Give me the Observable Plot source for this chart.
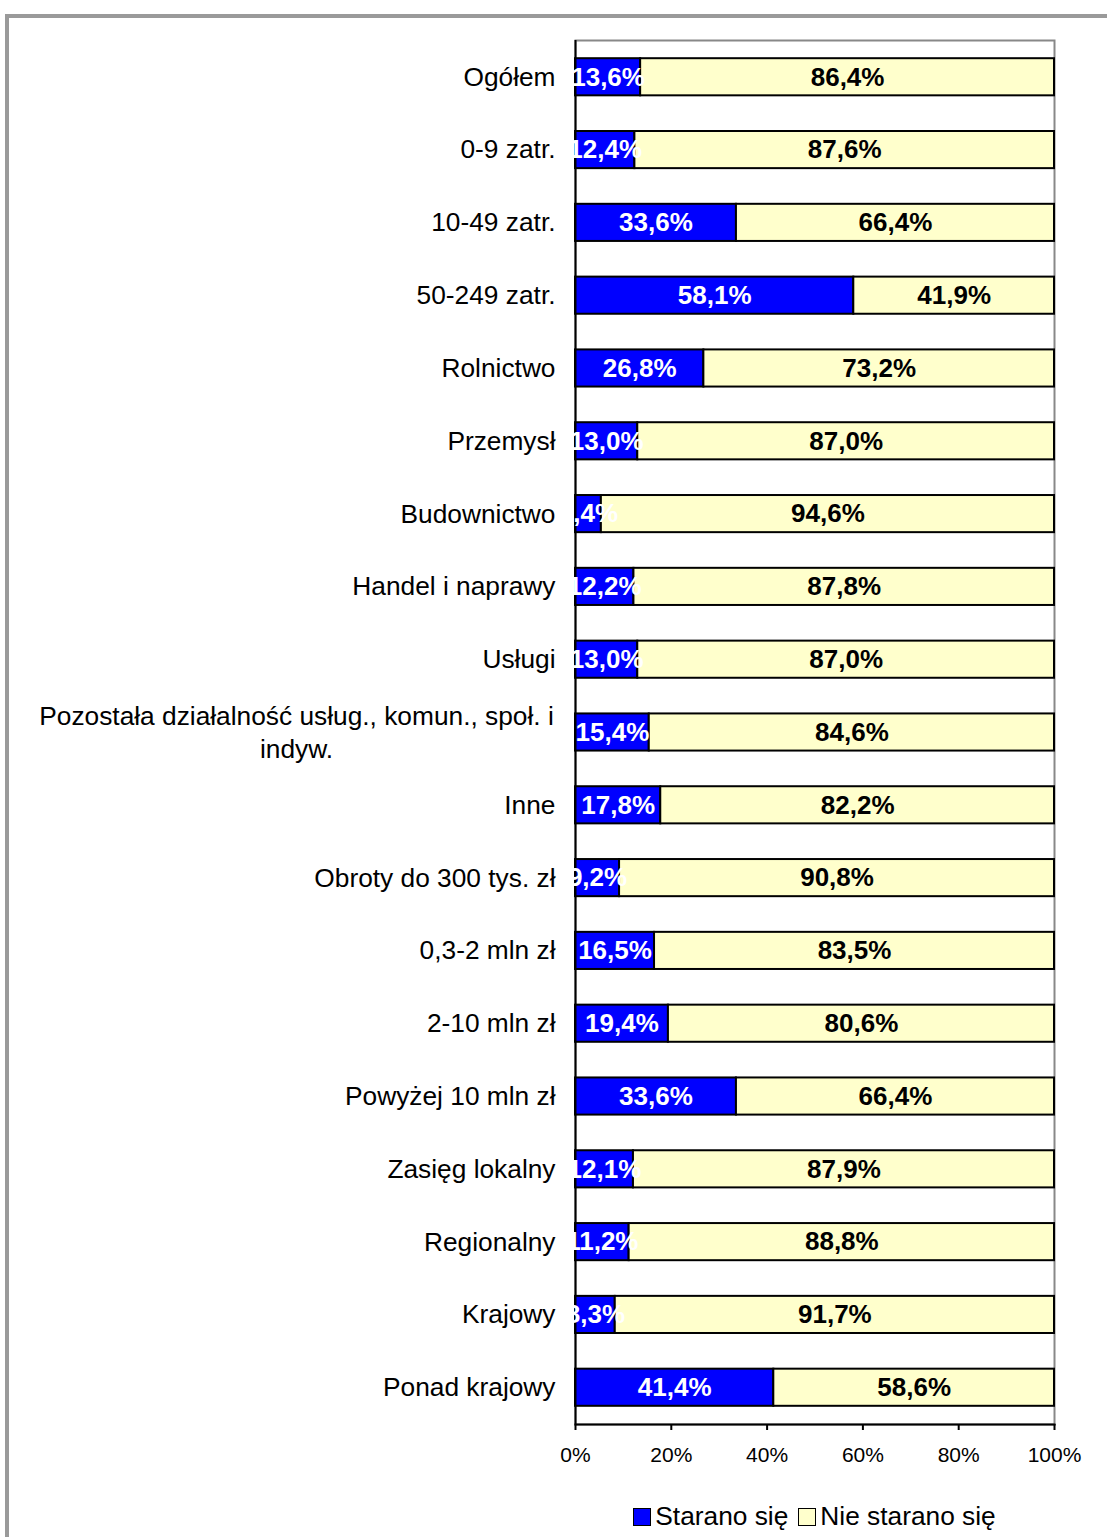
<!DOCTYPE html>
<html>
<head>
<meta charset="utf-8">
<script src="https://cdn.jsdelivr.net/npm/d3@7"></script>
<script src="https://cdn.jsdelivr.net/npm/@observablehq/plot@0.6"></script>
<style>
  html, body { margin: 0; padding: 0; background: #fff; overflow: hidden; }
  body { width: 1107px; height: 1537px; position: relative; font-family: "Liberation Sans", Arial, sans-serif; }
  #frame { position: absolute; left: 5px; top: 14px; width: 1300px; height: 1700px; border: 4px solid #9a9a9a; box-sizing: border-box; }
  #chart { position: absolute; left: 0; top: 0; width: 1107px; }
  #legend { width: 479px; margin-left: 575px; padding-top: 21px; text-align: center; font-size: 26.3px; color: #000; white-space: nowrap; }
  #legend .item { display: inline-flex; align-items: center; margin: 0 5px; }
  #legend .sw { display: inline-block; width: 16px; height: 16px; border: 1.5px solid #000; margin-right: 4px; }
</style>
</head>
<body>
<div id="frame"></div>
<div id="chart"></div>
<script>
const categories = ["Ogółem","0-9 zatr.","10-49 zatr.","50-249 zatr.","Rolnictwo","Przemysł","Budownictwo","Handel i naprawy","Usługi","Pozostała działalność usług., komun., społ. i indyw.","Inne","Obroty do 300 tys. zł","0,3-2 mln zł","2-10 mln zł","Powyżej 10 mln zł","Zasięg lokalny","Regionalny","Krajowy","Ponad krajowy"];
const starano = [13.6,12.4,33.6,58.1,26.8,13.0,5.4,12.2,13.0,15.4,17.8,9.2,16.5,19.4,33.6,12.1,11.2,8.3,41.4];
const nieStarano = [86.4,87.6,66.4,41.9,73.2,87.0,94.6,87.8,87.0,84.6,82.2,90.8,83.5,80.6,66.4,87.9,88.8,91.7,58.6];
const seriesNames = ["Starano się","Nie starano się"];
const seriesColors = ["#0000FF","#FFFFCC"];
const labelColors = ["#FFFFFF","#000000"];
const xTicks = [0,20,40,60,80,100];
const wrappedLabel = "Pozostała działalność usług., komun., społ. i\nindyw.";

const data = [];
categories.forEach((c, i) => {
  data.push({cat: c, series: 0, value: starano[i]});
  data.push({cat: c, series: 1, value: nieStarano[i]});
});
const fmt = v => v.toFixed(1).replace(".", ",") + "%";
const longCat = categories[9];

const plot = Plot.plot({
  width: 1107,
  height: 1480,
  marginLeft: 575,
  marginRight: 53,
  marginTop: 40,
  marginBottom: 56,
  style: {fontFamily: "'Liberation Sans', Arial, sans-serif", color: "#000", background: "transparent"},
  x: {domain: [0, 100]},
  y: {domain: categories, paddingInner: 0.49, paddingOuter: 0.25, round: false, label: null},
  color: {type: "identity"},
  marks: [
    Plot.frame({stroke: "#888", strokeWidth: 2}),
    Plot.barX(data, Plot.stackX({x: "value", y: "cat", fill: d => seriesColors[d.series], stroke: "#000", strokeWidth: 2})),
    Plot.ruleX([0], {stroke: "#000", strokeWidth: 2}),
    Plot.frame({anchor: "bottom", stroke: "#000", strokeWidth: 2}),
    Plot.text(data, Plot.stackX({x: "value", y: "cat", text: d => fmt(d.value), fill: d => labelColors[d.series], fontSize: 26, fontWeight: "bold"})),
    Plot.axisY({tickSize: 0, tickPadding: 20, fontSize: 26.3, tickFormat: d => d === longCat ? "" : d, label: null}),
    Plot.text([longCat], {y: d => d, text: () => wrappedLabel, frameAnchor: "left", dx: -279, dy: -2, textAnchor: "middle", fontSize: 26.3, lineHeight: 1.27}),
    Plot.axisX({ticks: xTicks, tickFormat: d => d + "%", tickSize: 6, tickPadding: 17, fontSize: 21, label: null, strokeWidth: 2})
  ]
});
const chart = document.getElementById("chart");
chart.appendChild(plot);

const legend = document.createElement("div");
legend.id = "legend";
seriesNames.forEach((name, i) => {
  const item = document.createElement("span");
  item.className = "item";
  const sw = document.createElement("span");
  sw.className = "sw";
  sw.style.background = seriesColors[i];
  item.appendChild(sw);
  item.appendChild(document.createTextNode(name));
  legend.appendChild(item);
});
chart.appendChild(legend);
</script>
</body>
</html>
